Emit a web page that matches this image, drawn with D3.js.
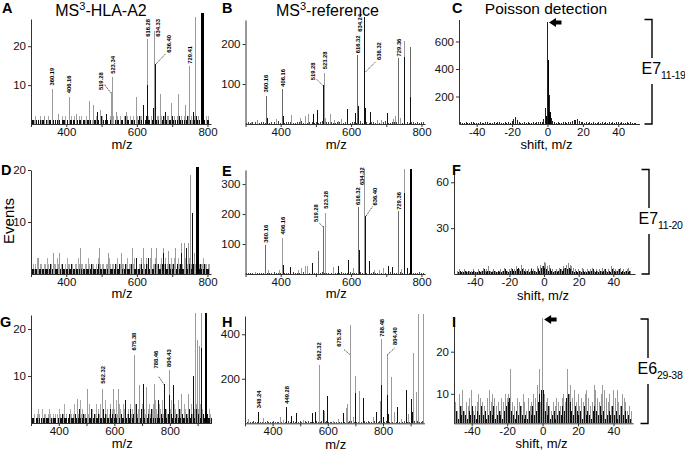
<!DOCTYPE html>
<html><head><meta charset="utf-8">
<script src="https://cdn.jsdelivr.net/npm/d3@7"></script>
<style>
body{margin:0;background:#fff}
svg{display:block}
text{font-family:"Liberation Sans",Arial,Helvetica,sans-serif}
</style>
</head><body>
<svg id="c" width="685" height="452"></svg>
<script>
// ---------------- DATA ----------------
const spectrumTicks = [300,400,500,600,700,800];
const spectrumTicksWide = [300,400,500,600,700,800,900];
const spectrumTickLabels = [400,600,800];
const shiftTicks = [-40,-20,0,20,40];
const yTicksA = [10,20], yTicksB = [100,200], yTicksC = [200,400,600];
const yTicksD = [10,20], yTicksE = [100,200,300], yTicksF = [30,60];
const yTicksG = [10,20], yTicksH = [200,400], yTicksI = [10,20];

const titles = ["MS", "3", "-HLA-A2", "-reference", "Poisson detection"];
const brackets = [["E7","11-19"],["E7","11-20"],["E6","29-38"]];

// Panel A  (m/z, events)
const aGray = [[337,2],[360,9],[377,2.5],[408,7],[430,2.5],[465,6],[476,5],[498,3.5],[527,8.2],[532,12],[541,3],[571,3],[598,7],[630,21.8],[650,24],[666,7.8],[699,5.5],[718,7.8],[737,5],[749,15],[766,27.5],[782,4.8]];
const aBlack = [[487,3],[513,2.5],[618,5],[630,10],[646,4],[652,15.5],[680,3],[760,3]];
const aThick = [[786,28.5]];
const aNoiseGray = [2,0,1,2,0,0,2,1,0,2, 0,1,2,0,0,2,0,1,0,2, 1,0,2,0,2,0,0,1,2,0, 2,0,1,0,2,2,0,0,1,2, 0,2,0,1,2,0,2,1,0,2, 2,0,0,2,1,0,2,0,2,0, 1,2,0,2,0,0,2,1,2,0, 2,0,2,0,1,2,0,2,2,1, 0,2,1,2,0,2,2,0,1,2, 2,0,2,1,2,0,2,2,0,2, 1,2,0,2,2,0,2,1,2,0, 2,2,0,2,1,2,0,2,2,0, 2,1,2,0,2,2,0];
const aNoiseBlack = [1,1,0,1,1,0,1,1,1,0, 1,0,1,1,0,1,1,0,1,1, 0,1,1,1,0,1,0,1,1,1, 1,0,1,1,1,0,1,1,0,1, 1,1,0,1,1,1,0,1,1,2, 1,0,1,1,0,1,1,1,0,1, 1,1,0,1,1,0,2,1,1,0, 1,1,1,0,1,1,2,1,0,1, 1,2,1,1,0,1,1,2,1,1, 0,1,1,2,1,1,0,1,1,2, 1,1,0,1,2,1,1,0,1,1, 2,1,1,0,1,1,2,1,1,0, 1,1,1,0,1,1];
const aLabels = [[360,9,"360.19"],[408,7,"406.16"],[527,8.2,"519.28"],[532,12,"523.34"],[630,21.8,"616.28"],[650,24,"634.33"],[652,15.5,"636.40"],[749,15,"729.41"]];

// Panel B
const bDark = [[359,70],[405.5,88],[619,172],[734.5,164],[770,192]];
const bGray = [[524.6,128],[750.5,207],[318.4,4],[334.5,10],[389,13],[430,22],[455.5,15],[470,20],[479,25],[528,15],[540.6,25],[553,10],[564.4,8],[573.8,12],[676,10],[687,10],[720.4,12],[727,20],[739,15]];
const bBlack = [[522,97],[637,268],[639,131],[750.5,168],[770,68],[363,15],[408,20],[493.5,26],[505.7,36],[591,38],[611.5,28],[621,45],[642,40],[654,30],[704,28]];
const bNoise = [3,5,2,4,6,3,2,5,4,3, 6,2,4,5,3,7,2,4,3,5, 4,6,3,2,5,4,7,3,5,2, 4,6,3,5,2,4,8,3,5,4, 6,3,2,5,4,7,3,5,4,2, 6,4,3,5,7,2,4,6,3,5, 4,2,6,3,5,4,7,3,2,5, 4,6,3,5,2,4,6,3,5,4, 3,5,2,4,6];
const bLabels = [[359,70,"360.16"],[405.5,88,"406.16"],[522,97,"519.28"],[524.6,128,"523.28"],[619,172,"616.32"],[637,268,"634.24"],[639,131,"636.32"],[734.5,164,"729.36"]];

// Panel C (shift, events) -50..50
const cCounts = [8,12,6,10,14,9,7,11,13,6, 10,8,12,7,9,14,11,6,10,8, 12,9,15,18,10,8,11,7,13,9, 20,35,50,28,15,10,8,12,9,14, 10,7,12,9,15,11,18,14,40,120, 745, 210,45,20,12,9,14,10,8,13,11, 9,12,15,22,30,28,35,25,18,12, 10,14,8,11,9,13,7,10,12,8, 11,9,14,8,12,10,16,9,11,13, 8,12,10,7,11,9,13,8,10,6];
const cBlack = [[0.4,465],[-0.6,60],[1.4,90]];

// Panel D
const dGray = [[753,19.1],[764.6,4],[745.6,6],[736,6],[727,6],[708,5],[689,4.5],[675,5],[656,5],[642,5],[620,5],[587,5],[557,4],[519,4],[493.5,5],[439,5],[382,4],[363,4],[321,3]];
const dBlack = [[757,11.7],[741,5],[727,4],[675,4],[633,3],[600,3]];
const dThick = [[772,20.6]];
const dNoiseGray = [2,2,1,2,3,2,2,2,1,2, 2,3,2,2,2,1,2,2,3,2, 2,2,2,1,2,3,2,2,2,2, 1,2,2,3,2,2,2,1,2,2, 3,2,2,2,2,1,2,3,2,2, 2,2,1,2,2,3,2,2,2,1, 2,3,2,2,2,2,1,2,3,2, 2,2,2,3,2,1,2,2,3,2, 2,3,2,2,3,2,2,2,3,2, 2,2,3,2,2,3,2,2,2,3, 2,3,2,2,3,2,3,2,2,3, 2,2,3,2,2,3,2,2,3,2, 2,2,3,2,2,2,2];
const dNoiseBlack = [1,1,1,1,1,1,1,1,1,1, 1,1,1,2,1,1,1,1,1,1, 1,2,1,1,1,1,1,1,2,1, 1,1,1,1,2,1,1,1,1,1, 1,1,2,1,1,1,1,2,1,1, 1,1,1,1,2,1,1,1,1,2, 1,1,2,1,1,1,2,1,1,1, 2,1,1,1,2,1,1,2,1,1, 1,2,1,1,2,1,1,2,1,2, 1,1,2,1,2,1,1,2,1,1, 2,1,1,2,1,2,1,1,2,1, 1,2,1,1,2,1,2,1,1,2, 1,1,2,1,1,1];

// Panel E
const eGray = [[405.5,120],[528.4,203],[639,350],[752.5,350],[549,25],[471.6,28],[476.4,28],[681.6,15],[691,20],[450,15],[459.4,20],[396,15],[364.7,15],[329.8,8],[743,18],[606,20],[667,15]];
const eDark = [[358.2,98],[506.6,78],[520.8,160],[620,225],[735.5,209]];
const eBlack = [[623,80],[641,195],[752.5,270],[409,30],[429,25],[490.6,38],[563,28],[591.7,48],[653,42],[705,28],[719,22],[759,20]];
const eThick = [[771.5,352]];
const eNoise = [4,2,5,3,6,2,4,3,5,7, 3,5,2,6,4,3,5,8,4,2, 5,3,6,4,2,5,3,7,4,6, 2,5,3,4,6,3,8,4,2,5, 3,6,4,5,2,7,3,5,4,6, 3,2,5,4,6,3,7,5,2,4, 6,3,5,2,4,7,3,5,6,2, 4,5,3,6,2,5,4,3,6,5, 2,4,6,3,5];
const eLabels = [[358.2,98,"360.16"],[405.5,120,"406.16"],[520.8,160,"519.28"],[528.4,203,"523.28"],[620,225,"616.32"],[639,350,"634.32"],[641,195,"636.40"],[735.5,209,"729.36"]];

// Panel F  gray at -50..50, black at -49.5..49.5
const fGray = [2,3,1,2,3,2,1,2,2,3, 2,1,3,2,2,4,2,3,5,2, 2,3,2,1,2,3,2,4,3,2, 3,4,2,3,5,4,3,6,4,3, 2,3,2,4,3,2,5,4,6,5, 8,7,5,6,4,3,2,3,2,4, 3,5,4,6,7,6,5,4,3,2, 3,2,4,3,2,3,2,3,4,2, 3,2,3,2,4,3,2,3,2,5, 4,3,2,3,4,2,3,2,3,4, 2];
const fBlack = [1,2,1,1,2,1,2,1,1,2, 1,1,2,1,2,3,1,2,2,1, 1,2,1,2,1,1,2,3,2,1, 2,3,2,2,3,4,2,3,2,1, 2,1,3,2,2,1,3,2,4,5, 4,3,2,3,2,1,2,1,2,3, 2,3,4,3,4,3,2,1,2,1, 2,1,2,1,1,2,1,2,3,1, 2,1,2,1,2,3,1,2,1,3, 2,1,2,3,1,2,1,2,1,2];

// Panel G
const gGray = [[467,5.2],[503,7.3],[558,7.3],[596,7.3],[614,7.3],[671,14.4],[690,8],[717,7.7],[746.5,8.2],[798,11.2],[842.6,6.2],[866.5,6.2],[893,23.5],[899,17.6],[906,16.5],[915,23.5]];
const gBlack = [[704,8.2],[782.5,8.2],[812.5,8],[884.5,10],[798,6],[915,16],[640,5],[760,5]];
const gThick = [[930,23.5]];
const gNoiseGray = [2,1,2,0,2,3,2,1,3,2, 2,0,2,3,2,1,2,2,0,2, 3,2,1,2,4,2,0,2,3,2, 2,4,2,3,2,5,2,3,2,2, 3,2,4,2,3,2,2,4,3,2, 4,2,3,5,2,3,2,4,3,2, 3,5,2,4,3,2,4,3,5,2, 3,4,2,3,5,4,2,3,4,2, 4,3,2,5,3,4,2,3,4,5, 3,2,4,3,5,2,4,3,2,4, 3,5,2,4,3,2,5,3,4,2, 4,3,2,5,3,4,2,3,5,4, 3,2,4,3,2,4,3,2,3,2];
const gNoiseBlack = [1,1,0,1,1,1,0,1,1,1, 1,1,1,0,1,1,1,1,0,1, 1,1,2,1,1,1,1,2,1,1, 1,2,1,1,3,1,1,2,1,1, 2,1,1,3,1,2,1,1,2,1, 1,3,1,2,1,1,3,1,2,1, 2,1,3,1,2,1,1,4,1,2, 1,3,1,2,1,4,1,2,1,3, 2,1,3,1,2,1,3,1,2,1, 1,3,1,2,1,1,3,1,2,1, 2,1,4,1,2,1,3,1,2,1, 1,2,1,3,1,2,1,1,3,1, 2,1,1,2,1,1,2,1,1,1];
const gLabels = [[558,7.3,"562.32"],[671,14.4,"675.38"],[782.5,8.2,"788.46"],[798,11.2,"804.43"]];

// Panel H
const hGray = [[313,20],[367.6,25],[428,30],[569,262],[587.4,55],[666,70],[673,85],[681.7,442],[702,213],[714,147],[790,100],[796,378],[814.5,310],[832.6,210],[842.4,50],[911,315],[919.6,142],[929,490],[947.5,490],[440,15],[512.6,15],[621,10],[637,20],[694,30],[766,30],[866.4,20],[893,40]];
const hBlack = [[349.5,52],[452,72],[470,35],[484.8,45],[542.8,45],[554.8,50],[583.8,60],[599.5,123],[657.5,45],[702,135],[728.6,115],[778,50],[796,172],[802.5,30],[814.5,127],[820.6,40],[854,75],[884.5,150],[902.6,108],[907.5,50]];
const hNoise = [8,5,10,6,4,9,7,5,11,6, 4,8,6,10,5,7,4,9,6,8, 5,11,7,4,8,6,10,5,7,9, 4,6,8,12,5,7,9,4,10,6, 8,5,7,11,6,4,9,7,5,10, 6,8,4,12,7,5,9,6,8,10, 5,7,4,9,11,6,8,5,7,10, 6,4,9,7,12,5,8,6,10,7, 5,9,6,8,4,11,7,5,9,6, 10,8,5,7,12,6,9,4,8,7, 11,6,9,5,10,8,7,12];
const hLabels = [[349.5,52,"348.24"],[452,72,"449.28"],[569,262,"562.32"],[681.7,311,"675.36"],[796,378,"788.48"],[814.5,310,"804.40"]];

// Panel I  gray at -50..50, black at -49.5..49.5
const iGray = [7,8,6,10,7,11,6,8,7,9, 11,6,7,8,10,9,8,7,6,9, 11,8,10,9,7,8,6,9,8,10, 9,10,16,8,7,6,9,8,7,10, 8,6,9,7,8,10,9,12,16,8, 28, 10,8,9,7,6,8,7,9,8,7, 9,10,8,16,10,12,9,11,8,10, 7,9,8,10,11,9,7,8,12,11, 9,8,10,12,11,9,8,10,7,11, 9,11,8,7,10,9,8,6,7,6];
const iBlack = [5,6,4,7,5,6,5,4,6,5, 7,5,4,6,5,7,5,6,4,5, 6,5,7,4,5,6,5,4,6,7, 8,9,6,5,4,6,5,7,5,4, 5,4,6,5,7,5,6,8,10,11, 11,6,5,7,4,5,6,4,5,6, 5,7,6,9,10,8,6,5,7,6, 5,6,4,7,5,6,5,4,6,7, 6,5,7,5,6,4,5,6,5,7, 5,6,4,5,7,5,6,4,5,4];

// ---------------- LAYOUT ----------------
const LAY = {
  A:{xr:[31,211],   yr:[124,19],    xd:[300,810], yd:[0,27],   xt:spectrumTicks, xl:spectrumTickLabels, yt:yTicksA},
  B:{xr:[245.5,425],yr:[124,20],    xd:[300,810], yd:[0,260],  xt:spectrumTicks, xl:spectrumTickLabels, yt:yTicksB},
  C:{xr:[459,639.5],yr:[124,19.5],  xd:[-50,52],  yd:[0,760],  xt:shiftTicks, xl:shiftTicks, yt:yTicksC},
  D:{xr:[31,211],   yr:[274,170],   xd:[300,810], yd:[0,20],   xt:spectrumTicks, xl:spectrumTickLabels, yt:yTicksD},
  E:{xr:[245.5,425],yr:[274,170],   xd:[300,810], yd:[0,347],  xt:spectrumTicks, xl:spectrumTickLabels, yt:yTicksE},
  F:{xr:[454,635],  yr:[274,169.3], xd:[-52,52.5],yd:[0,68.5], xt:shiftTicks, xl:shiftTicks, yt:yTicksF},
  G:{xr:[31,211.5], yr:[423,315],   xd:[300,950], yd:[0,23],   xt:spectrumTicksWide, xl:spectrumTickLabels, yt:yTicksG},
  H:{xr:[245,424.4],yr:[423.3,316], xd:[300,950], yd:[0,482],  xt:spectrumTicksWide, xl:spectrumTickLabels, yt:yTicksH},
  I:{xr:[454,633],  yr:[423.3,318], xd:[-50,51],  yd:[3,28],   xt:shiftTicks, xl:shiftTicks, yt:yTicksI}
};
// label offsets (px) : dx, dy of label bottom from anchor; lead = leader end offset
const LOFF = {
  A:{"519.28":{dx:-10.5,dy:-2,lead:[-7,-8]},"636.40":{dx:13.5,dy:-11,lead:[10,-9.5]},"634.33":{dx:3.5,dy:6},"729.41":{dy:-2},"616.28":{dy:-2.5}},
  B:{"519.28":{dx:-10.7,dy:-5,lead:[-7,-6]},"636.32":{dx:13.7,dy:-11.7,lead:[11,-10]},"634.24":{dx:-4,dy:15},"406.16":{dy:-2},"616.32":{dy:-2},"729.36":{dy:-2}},
  E:{"519.28":{dx:-7,dy:-4,lead:[-4,-3]},"636.40":{dx:9.5,dy:-10,lead:[7,-9]},"634.32":{dx:-3.3,dy:16},"360.16":{dy:-2},"616.32":{dy:-1.5},"729.36":{dy:-1.5},"523.28":{dy:-4.5}},
  G:{"788.46":{dx:-9,dy:-16,lead:[-6.7,-8.4]},"562.32":{dy:-5},"675.38":{dy:-5}},
  H:{"675.36":{dx:-11.6,dy:-7.3,lead:[-6.6,-4.7]},"804.40":{dx:8.3,dy:-9.3,lead:[8,-6.7]},"788.48":{dy:-2.5},"562.32":{dy:-5}}
};

const C_GRAY = "#a9a9a9", C_DARK = "#6a6a6a", C_BLACK = "#111";
const svg = d3.select("#c");
svg.append("rect").attr("width",685).attr("height",452).attr("fill","#fff");

function seq(start, step, arr){ return arr.map((v,i)=>[start+i*step, v]); }

function drawPanel(key, layers, labels){
  const L = LAY[key];
  const xs = d3.scaleLinear().domain(L.xd).range(L.xr);
  const ys = d3.scaleLinear().domain(L.yd).range(L.yr);
  const base = ys(L.yd[0]);
  const g = svg.append("g");
  layers.forEach(ly=>{
    g.append("g").selectAll("rect").data(ly.data).join("rect")
      .attr("x", d=>xs(d[0]) - ly.w/2).attr("width", ly.w)
      .attr("y", d=>ys(d[1])).attr("height", d=>Math.max(0, base - ys(d[1])))
      .attr("fill", ly.c).attr("shape-rendering","crispEdges");
  });
  const xa = d3.axisBottom(xs).tickValues(L.xt).tickSize(3).tickSizeOuter(0).tickPadding(1)
      .tickFormat(d => L.xl.includes(d) ? String(d) : "");
  const ya = d3.axisLeft(ys).tickValues(L.yt).tickSize(3).tickSizeOuter(0).tickPadding(2)
      .tickFormat(d=>String(d));
  const gx = g.append("g").attr("transform",`translate(0,${base})`).call(xa);
  const gy = g.append("g").attr("transform",`translate(${L.xr[0]},0)`).call(ya);
  [gx,gy].forEach(a=>{
    a.attr("font-family",null).attr("font-size",null);
    a.selectAll("path,line").attr("stroke","#333").attr("stroke-width",1);
    a.selectAll("text").attr("font-size","11.5px").attr("fill","#111");
  });
  const off = LOFF[key] || {};
  (labels||[]).forEach(([m,v,t])=>{
    const o = off[t] || {};
    const px = xs(m), py = ys(v);
    const dx = o.dx || 0, dy = (o.dy===undefined) ? -3.5 : o.dy;
    if (o.lead){
      g.append("line").attr("x1", px + (o.lead[0]<0?-0.5:0.5)).attr("y1", py+0.5)
        .attr("x2", px+o.lead[0]).attr("y2", py+o.lead[1])
        .attr("stroke","#000").attr("stroke-width",0.7).attr("stroke-dasharray","1.3,0.8");
    }
    g.append("text").attr("transform",`translate(${px+dx+2.1},${py+dy}) rotate(-90)`)
      .attr("font-size","5.8px").attr("font-weight","600").attr("fill","#000").text(t);
  });
  return {xs, ys, base, L};
}

// ---- Panels ----
const pA = drawPanel("A",[
  {data:seq(302,4,aNoiseGray),c:C_GRAY,w:1},
  {data:seq(304,4,aNoiseBlack),c:C_BLACK,w:1},
  {data:aGray,c:"#9a9a9a",w:1},
  {data:aBlack,c:C_BLACK,w:1},
  {data:aThick,c:"#000",w:2.2}
], aLabels);

const pB = drawPanel("B",[
  {data:seq(303,6,bNoise),c:"#444",w:1},
  {data:bGray,c:"#9a9a9a",w:1},
  {data:bDark,c:C_DARK,w:1},
  {data:bBlack,c:C_BLACK,w:1}
], bLabels);

const pC = drawPanel("C",[
  {data:seq(-50,1,cCounts),c:"#222",w:1},
  {data:cBlack,c:"#000",w:1.2}
], []);

const pD = drawPanel("D",[
  {data:seq(302,4,dNoiseGray),c:C_GRAY,w:1},
  {data:seq(304,4,dNoiseBlack),c:C_BLACK,w:1},
  {data:dGray,c:"#9a9a9a",w:1},
  {data:dBlack,c:C_BLACK,w:1},
  {data:dThick,c:"#000",w:2.2}
], []);

const pE = drawPanel("E",[
  {data:seq(303,6,eNoise),c:"#444",w:1},
  {data:eGray,c:"#9a9a9a",w:1},
  {data:eDark,c:C_DARK,w:1},
  {data:eBlack,c:C_BLACK,w:1},
  {data:eThick,c:"#000",w:2}
], eLabels);

const pF = drawPanel("F",[
  {data:seq(-50,1,fGray),c:"#8a8a8a",w:1},
  {data:seq(-49.5,1,fBlack),c:"#111",w:1}
], []);

const pG = drawPanel("G",[
  {data:seq(302,5,gNoiseGray),c:C_GRAY,w:1},
  {data:seq(304.5,5,gNoiseBlack),c:C_BLACK,w:1},
  {data:gGray,c:"#9a9a9a",w:1},
  {data:gBlack,c:C_BLACK,w:1},
  {data:gThick,c:"#000",w:1.6}
], gLabels);

const pH = drawPanel("H",[
  {data:seq(302,6,hNoise),c:"#444",w:1},
  {data:hGray,c:"#9a9a9a",w:1},
  {data:hBlack,c:C_BLACK,w:1}
], hLabels);

const pI = drawPanel("I",[
  {data:seq(-50,1,iGray),c:"#9a9a9a",w:1},
  {data:seq(-49.5,1,iBlack),c:"#111",w:1}
], []);

// ---- Texts ----
function txt(x,y,s,size,opts){
  const t = svg.append("text").attr("x",x).attr("y",y).attr("font-size",size+"px").attr("fill","#000").text(s);
  if (opts && opts.anchor) t.attr("text-anchor",opts.anchor);
  if (opts && opts.bold) t.attr("font-weight","bold");
  return t;
}
// panel letters
[["A",2,13],["B",222,13],["C",452,13],["D",1,175],["E",222,176],["F",452,175],["G",0,327],["H",222,326.5],["I",452,327]]
  .forEach(([s,x,y])=>txt(x,y,s,14.5,{bold:true}));

// titles
function msTitle(cx, rest){
  const t = svg.append("text").attr("x",cx).attr("y",15.5).attr("text-anchor","middle").attr("font-size","16px");
  t.append("tspan").text(titles[0]);
  t.append("tspan").attr("font-size","11px").attr("dy",-6).text(titles[1]);
  t.append("tspan").attr("dy",6).text(rest);
}
msTitle(101, titles[2]);
msTitle(327.5, titles[3]);
txt(pC.xs(0)-1.5, 14, titles[4], 15.5, {anchor:"middle"});

// axis titles
[[pA,"m/z",148.5],[pB,"m/z",148.5],[pD,"m/z",297.5],[pE,"m/z",298],[pG,"m/z",448],[pH,"m/z",448.5]].forEach(([p,s,y])=>{
  txt((p.L.xr[0]+p.L.xr[1])/2 + 1, y, s, 13, {anchor:"middle"});
});
[[pC,149],[pF,299.5],[pI,448]].forEach(([p,y])=>txt(p.xs(0)-1, y, "shift, m/z", 13, {anchor:"middle"}));

svg.append("text").attr("transform","translate(13.5,221) rotate(-90)").attr("text-anchor","middle")
  .attr("font-size","15px").text("Events");

// arrows
function arrow(x,y){
  svg.append("path").attr("d",`M${x},${y} L${x+7},${y-4.5} L${x+7},${y-2} L${x+12.5},${y-2} L${x+12.5},${y+2} L${x+7},${y+2} L${x+7},${y+4.5} Z`)
    .attr("fill","#000");
}
arrow(pC.xs(0)+1.5, 22.5);
arrow(pI.xs(0)+1.5, 319.5);

// brackets
function bracket(x, y0, y1, lab, tx, ty){
  const g = svg.append("g");
  g.append("path").attr("d",`M${x-7.5},${y0} H${x} V${y1} H${x-7.5}`).attr("fill","none").attr("stroke","#000").attr("stroke-width",1.4);
  g.append("rect").attr("x",tx-1).attr("y",ty-16).attr("width",685-tx+1).attr("height",26).attr("fill","#fff");
  const t = g.append("text").attr("x",tx).attr("y",ty).attr("font-size","16px");
  t.append("tspan").text(lab[0]);
  t.append("tspan").attr("font-size","10.5px").attr("dy",5).attr("letter-spacing","-0.3").text(lab[1]);
}
bracket(652, 19.5, 124, brackets[0], 641.5, 74);
bracket(649, 169.5, 274, brackets[1], 638.5, 224);
bracket(648, 319, 423.5, brackets[2], 637.5, 374);
</script>
</body></html>
